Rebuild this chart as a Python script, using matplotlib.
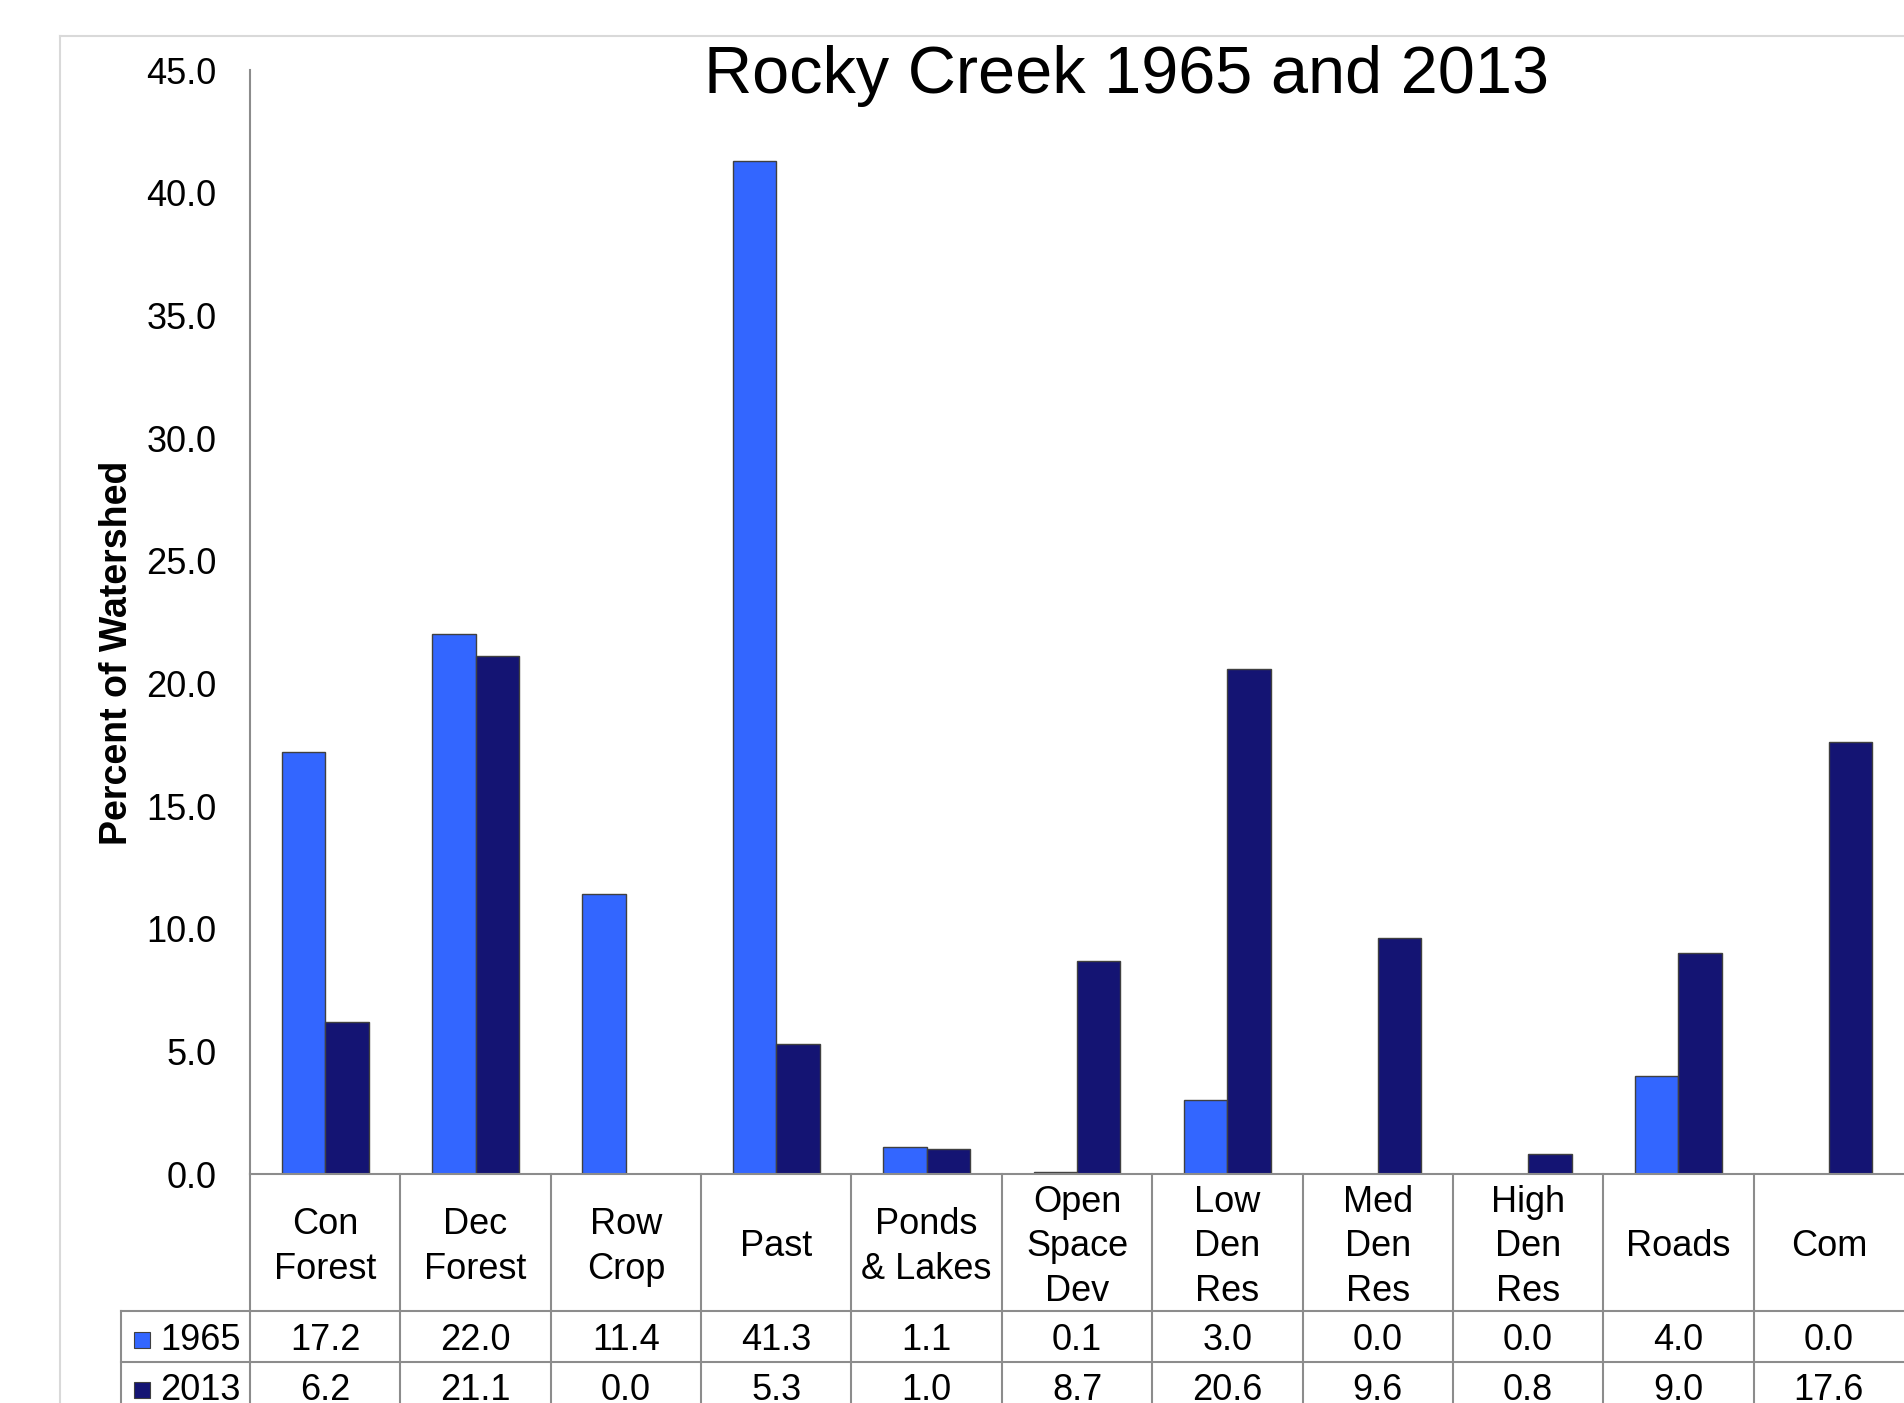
import numpy as np
import matplotlib
matplotlib.use("Agg")
import matplotlib.pyplot as plt
from matplotlib.lines import Line2D
from matplotlib.patches import Rectangle
from matplotlib.transforms import blended_transform_factory

plt.rcParams['font.family'] = ['Liberation Sans', 'DejaVu Sans']

categories = ["Con\nForest", "Dec\nForest", "Row\nCrop", "Past", "Ponds\n& Lakes",
              "Open\nSpace\nDev", "Low\nDen\nRes", "Med\nDen\nRes", "High\nDen\nRes",
              "Roads", "Com"]
series_names = ["1965", "2013"]
v1965 = [17.2, 22.0, 11.4, 41.3, 1.1, 0.1, 3.0, 0.0, 0.0, 4.0, 0.0]
v2013 = [6.2, 21.1, 0.0, 5.3, 1.0, 8.7, 20.6, 9.6, 0.8, 9.0, 17.6]
yticks = np.arange(0, 50, 5)

c1965 = "#3366ff"
c2013 = "#141473"
edge = "#404040"
grid = "#8c8c8c"

W, H = 1904, 1403
fig = plt.figure(figsize=(W / 100, H / 100), dpi=100)

def fy(py):
    # pixel row (from top) -> figure fraction
    return 1 - py / H

ax = fig.add_axes([250 / W, fy(1174), 1654 / W, (1174 - 70) / H])
x = np.arange(len(categories))
bw = 0.289
ax.bar(x - bw / 2, v1965, bw, color=c1965, edgecolor=edge, linewidth=1)
ax.bar(x + bw / 2, v2013, bw, color=c2013, edgecolor=edge, linewidth=1)

ax.set_xlim(-0.5, len(categories) - 0.5)
ax.set_ylim(0, 45)
ax.set_yticks(yticks)
ax.set_yticklabels(["%.1f" % t for t in yticks])
ax.tick_params(axis='y', length=0, pad=24, labelsize=26)
ax.set_xticks([])
for s in ["top", "right"]:
    ax.spines[s].set_visible(False)
for s in ["left", "bottom"]:
    ax.spines[s].set_color(grid)
    ax.spines[s].set_linewidth(1.5)

# data table under the plot
tr = blended_transform_factory(ax.transData, fig.transFigure)
for b in np.arange(-0.5, len(categories) - 1, 1.0):
    ax.add_line(Line2D([b, b], [fy(1174), fy(1450)], color=grid, lw=1.5,
                       transform=tr, clip_on=False))
for py in [1311, 1362]:
    fig.add_artist(Line2D([121 / W, 1], [fy(py), fy(py)], color=grid, lw=1.5,
                          transform=fig.transFigure))
fig.add_artist(Line2D([121 / W, 121 / W], [fy(1311), fy(1450)], color=grid, lw=1.5,
                      transform=fig.transFigure))

for i, lab in enumerate(categories):
    ax.text(i, fy(1247), lab, transform=tr, ha='center', va='center',
            fontsize=26, linespacing=1.34, clip_on=False)
    ax.text(i, fy(1340), "%.1f" % v1965[i], transform=tr, ha='center', va='center',
            fontsize=26, clip_on=False)
    ax.text(i, fy(1390), "%.1f" % v2013[i], transform=tr, ha='center', va='center',
            fontsize=26, clip_on=False)

for name, col, py in zip(series_names, [c1965, c2013], [1340, 1390]):
    fig.add_artist(Rectangle((134 / W, fy(py + 8)), 16 / W, 16 / H, facecolor=col,
                             edgecolor=edge, lw=0.8, transform=fig.transFigure))
    fig.text(160 / W, fy(py), name, ha='left', va='center', fontsize=26)

# chart area border
fig.add_artist(Line2D([60 / W, 60 / W], [fy(36), 0], color="#d9d9d9", lw=1.5,
                      transform=fig.transFigure))
fig.add_artist(Line2D([60 / W, 1], [fy(36), fy(36)], color="#d9d9d9", lw=1.5,
                      transform=fig.transFigure))

fig.text(1126 / W, fy(76), "Rocky Creek 1965 and 2013", ha='center', va='center',
         fontsize=48)
fig.text(117 / W, fy(653), "Percent of Watershed", rotation=90, ha='center',
         va='center', fontsize=27, fontweight='bold')

fig.savefig("out.png", dpi=100)
